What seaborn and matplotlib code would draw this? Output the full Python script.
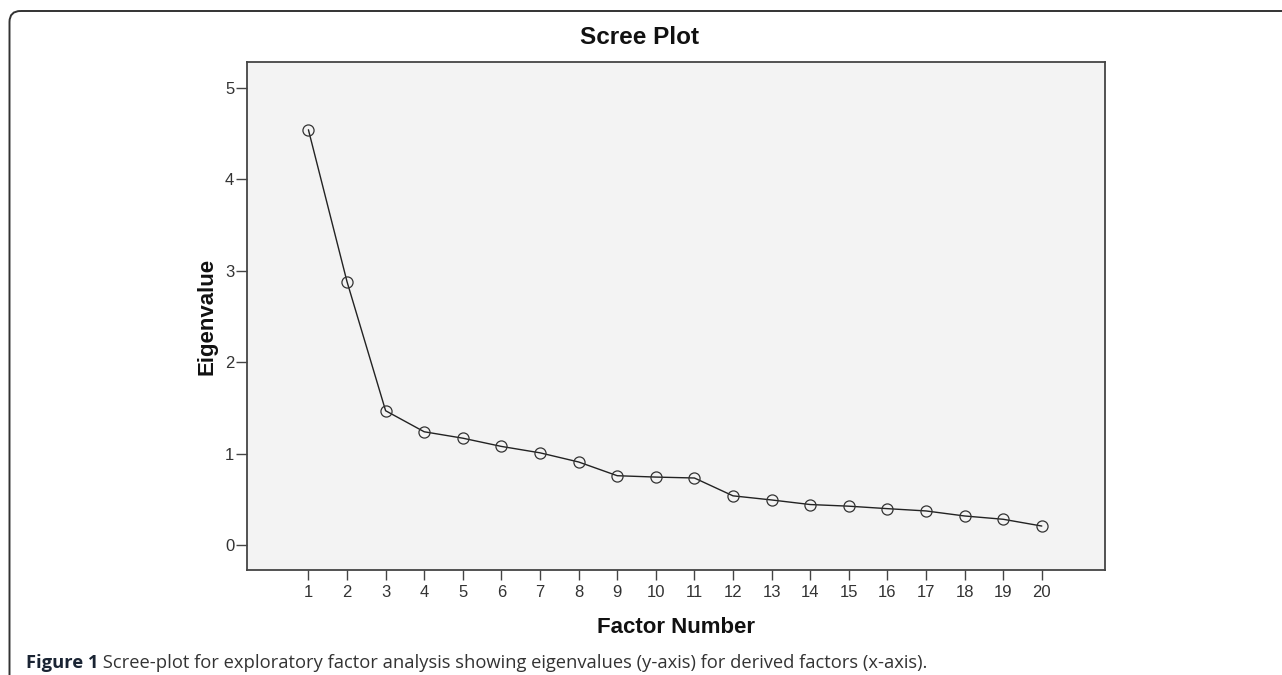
import matplotlib
matplotlib.use("Agg")
import matplotlib.pyplot as plt
import seaborn as sns
import pandas as pd
from matplotlib.patches import FancyBboxPatch

# Scree plot data
factors = list(range(1, 21))
eigenvalues = [4.54, 2.88, 1.47, 1.24, 1.17, 1.08, 1.01, 0.91, 0.76, 0.745,
               0.735, 0.54, 0.495, 0.445, 0.427, 0.40, 0.375, 0.32, 0.284, 0.21]
y_ticks = [0, 1, 2, 3, 4, 5]

title = "Scree Plot"
x_label = "Factor Number"
y_label = "Eigenvalue"
caption_bold = "Figure 1"
caption_text = " Scree-plot for exploratory factor analysis showing eigenvalues (y-axis) for derived factors (x-axis)."

df = pd.DataFrame({"Factor": factors, "Eigenvalue": eigenvalues})

sns.set_theme(style="white")
plt.rcParams["font.family"] = ["Liberation Sans", "DejaVu Sans"]

fig = plt.figure(figsize=(12.82, 6.75), dpi=100)

# outer rounded frame, drawn in pixel units on an overlay
frame = fig.add_axes([0, 0, 1, 1], zorder=-5)
frame.set_xlim(0, 1282)
frame.set_ylim(675, 0)
frame.axis("off")
frame.add_patch(FancyBboxPatch((9.5, 11), 1400, 800,
                               boxstyle="round,pad=0,rounding_size=11",
                               fill=False, edgecolor="#333333", linewidth=1.4))

ax = fig.add_axes([0.1924, 0.1556, 0.6696, 0.7525])
ax.set_facecolor("#f3f3f3")

sns.lineplot(data=df, x="Factor", y="Eigenvalue", ax=ax, color="#222222",
             linewidth=1.0, marker="o", markersize=8, markerfacecolor="none",
             markeredgecolor="#333333", markeredgewidth=0.9)

ax.set_xlim(-0.6, 21.64)
ax.set_ylim(-0.27, 5.28)
ax.set_xticks(factors)
ax.set_yticks(y_ticks)

for s in ax.spines.values():
    s.set_color("#444444")
    s.set_linewidth(1.3)

ax.tick_params(axis="x", direction="out", length=7, width=1, color="#444444",
               labelsize=12, labelcolor="#333333", pad=4, bottom=True)
ax.tick_params(axis="y", direction="out", length=8, width=1, color="#444444",
               labelsize=12, labelcolor="#333333", pad=1, left=True)

ax.set_xlabel(x_label, fontsize=16, fontweight="bold", color="#111111", labelpad=12)
ax.set_ylabel(y_label, fontsize=16, fontweight="bold", color="#111111", labelpad=5)

fig.text(640 / 1282, 1 - 37 / 675, title, ha="center", va="center",
         fontsize=17.5, fontweight="bold", color="#111111")

# caption under the chart
t1 = fig.text(26 / 1282, 1 - 663 / 675, caption_bold, ha="left", va="center",
              fontsize=13.2, fontweight="bold", color="#1a2433", family=["Open Sans", "DejaVu Sans"])
fig.canvas.draw()
bb = t1.get_window_extent()
fig.text(bb.x1 / 1282, 1 - 663 / 675, caption_text, ha="left", va="center",
         fontsize=13.2, color="#333333", family=["Open Sans", "DejaVu Sans"])

plt.savefig("out.png", dpi=100)
